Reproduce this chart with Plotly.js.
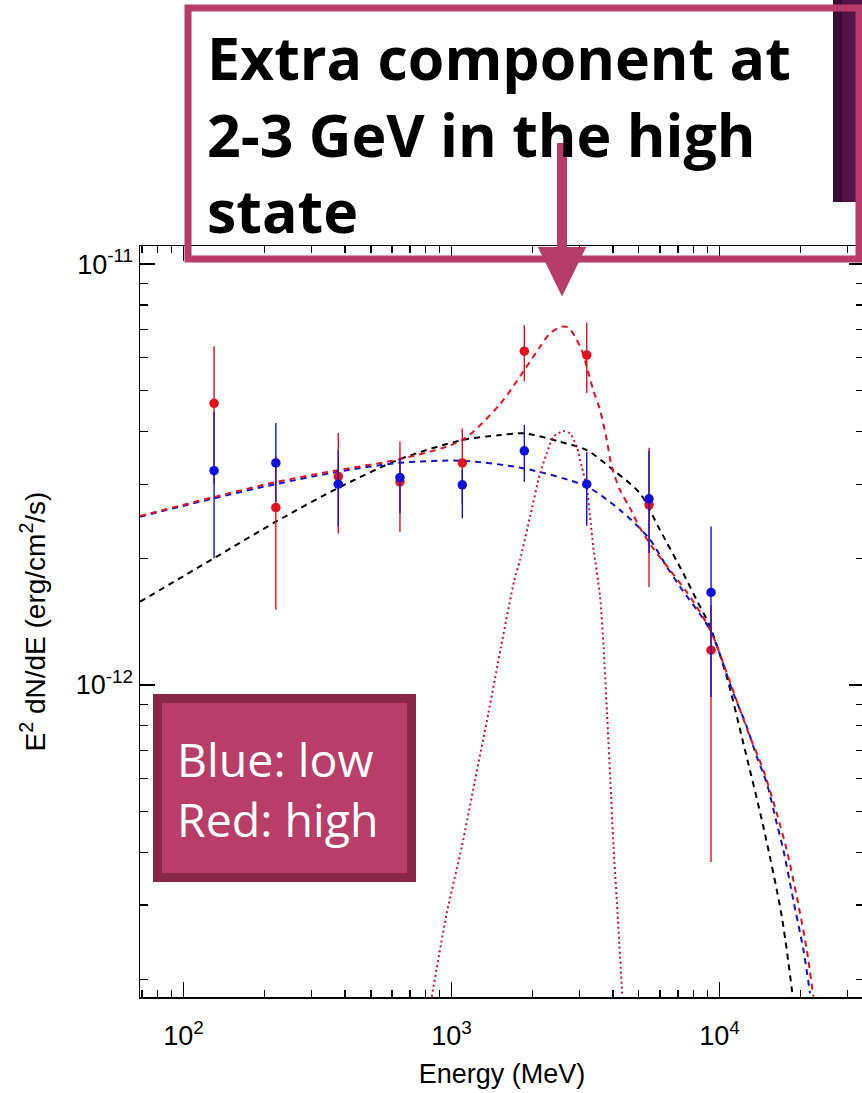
<!DOCTYPE html>
<html>
<head>
<meta charset="utf-8">
<script src="https://cdn.plot.ly/plotly-3.0.1.min.js"></script>
<style>
  html, body { margin: 0; padding: 0; overflow: hidden; background: #fff; }
  #chart { width: 880px; height: 1093px; }
</style>
</head>
<body>
<div id="chart"></div>
<script>
// Measured spectral points (MeV, erg/cm^2/s)
const energy = [130, 221, 378, 642, 1097, 1869, 3195, 5457, 9296];

// High state (red)
const highFlux  = [4.67e-12, 2.64e-12, 3.13e-12, 3.04e-12, 3.37e-12, 6.21e-12, 6.08e-12, 2.68e-12, 1.21e-12];
const highUpper = [6.38e-12, 3.50e-12, 3.97e-12, 3.79e-12, 4.07e-12, 7.16e-12, 7.26e-12, 3.66e-12, 1.55e-12];
const highLower = [3.00e-12, 1.51e-12, 2.29e-12, 2.31e-12, 2.70e-12, 5.27e-12, 4.94e-12, 1.71e-12, 3.80e-13];

// Low state (blue)
const lowFlux  = [3.23e-12, 3.37e-12, 3.00e-12, 3.11e-12, 2.99e-12, 3.60e-12, 3.00e-12, 2.77e-12, 1.66e-12];
const lowUpper = [4.45e-12, 4.19e-12, 3.61e-12, 3.46e-12, 3.25e-12, 4.15e-12, 3.58e-12, 3.60e-12, 2.38e-12];
const lowLower = [2.00e-12, 2.72e-12, 2.38e-12, 2.56e-12, 2.49e-12, 3.04e-12, 2.39e-12, 2.06e-12, 9.37e-13];

// Model curves
const avgModelE = [68.8, 130, 221, 377, 642, 1094, 1517, 1869, 2540, 3195, 4015, 5050, 5998, 7325, 8220, 9217, 10640, 12270, 14570, 17070, 18760];
const avgModelF = [1.577e-12, 2.002e-12, 2.443e-12, 2.937e-12, 3.441e-12, 3.818e-12, 3.925e-12, 3.962e-12, 3.783e-12, 3.615e-12, 3.240e-12, 2.853e-12, 2.334e-12, 1.842e-12, 1.591e-12, 1.376e-12, 1.046e-12, 7.27e-13, 4.61e-13, 2.82e-13, 1.82e-13];

const lowModelE = [68.8, 130, 221, 377, 642, 1094, 1865, 3203, 4254, 5457, 6353, 7122, 9217, 11260, 12640, 13770, 15010, 16350, 17300, 18860, 20550, 21760];
const lowModelF = [2.511e-12, 2.777e-12, 3.002e-12, 3.210e-12, 3.373e-12, 3.410e-12, 3.270e-12, 2.958e-12, 2.603e-12, 2.231e-12, 1.910e-12, 1.712e-12, 1.351e-12, 9.56e-13, 7.96e-13, 6.76e-13, 5.84e-13, 4.69e-13, 4.06e-13, 3.08e-13, 2.35e-13, 1.852e-13];

const highModelE = [68.8, 130, 221, 377, 642, 1094, 1517, 1869, 2139, 2331, 2577, 2728, 2889, 3060, 3195, 3381, 3583, 3795, 3962, 4254, 4634, 5050, 5647, 6537, 7545, 8455, 9352, 10330, 11930, 12990, 14570, 16350, 17810, 19420, 21160, 22390];
const highModelF = [2.520e-12, 2.797e-12, 3.035e-12, 3.240e-12, 3.441e-12, 3.818e-12, 4.650e-12, 5.600e-12, 6.363e-12, 6.846e-12, 7.098e-12, 7.074e-12, 6.719e-12, 6.249e-12, 5.703e-12, 5.017e-12, 4.498e-12, 3.818e-12, 3.300e-12, 2.905e-12, 2.632e-12, 2.360e-12, 2.115e-12, 1.875e-12, 1.663e-12, 1.491e-12, 1.328e-12, 1.126e-12, 8.72e-13, 7.54e-13, 6.28e-13, 4.96e-13, 4.06e-13, 3.14e-13, 2.35e-13, 1.818e-13];

// Extra component in the high state
const extraE = [843.7, 959.6, 1092, 1224, 1372, 1530, 1715, 1801, 1963, 2139, 2266, 2399, 2614, 2768, 2933, 3060, 3195, 3287, 3381, 3583, 3692, 3804, 3914, 4023, 4164, 4339];
const extraF = [1.818e-13, 2.869e-13, 4.128e-13, 5.944e-13, 8.564e-13, 1.233e-12, 1.775e-12, 1.981e-12, 2.511e-12, 3.183e-12, 3.550e-12, 3.890e-12, 4.011e-12, 3.961e-12, 3.681e-12, 3.300e-12, 2.958e-12, 2.511e-12, 2.130e-12, 1.621e-12, 1.233e-12, 8.564e-13, 5.944e-13, 4.128e-13, 2.869e-13, 1.818e-13];

// Axis ticks
const xMajor = [100, 1000, 10000];
const xMajorText = ['10<sup>2</sup>', '10<sup>3</sup>', '10<sup>4</sup>'];
const xMinor = [70, 80, 90, 200, 300, 400, 500, 600, 700, 800, 900, 2000, 3000, 4000, 5000, 6000, 7000, 8000, 9000, 20000, 30000];
const yMajor = [1e-12, 1e-11];
const yMajorText = ['10<sup>-12</sup>', '10<sup>-11</sup>'];
const yMinor = [2e-13, 3e-13, 4e-13, 5e-13, 6e-13, 7e-13, 8e-13, 9e-13, 2e-12, 3e-12, 4e-12, 5e-12, 6e-12, 7e-12, 8e-12, 9e-12];

const RED = '#e8101c', BLUE = '#1010e0', DOT = '#d01038';
const PINK = '#b83c6a';

// plot area in page pixels, used to place the overlay boxes
const PL = 140, PR = 864, PT = 246, PB = 997;
const fx = x => (x - PL) / (PR - PL);
const fy = y => (PB - y) / (PB - PT);

const diff = (a, b) => a.map((v, i) => v - b[i]);

const dashStyle = '6px,5px';
const traces = [
  { x: avgModelE, y: avgModelF, mode: 'lines', line: { color: '#000', width: 2, dash: dashStyle, shape: 'spline', smoothing: 0.8 }, hoverinfo: 'skip' },
  { x: lowModelE, y: lowModelF, mode: 'lines', line: { color: BLUE, width: 2, dash: dashStyle, shape: 'spline', smoothing: 0.8 }, hoverinfo: 'skip' },
  { x: highModelE, y: highModelF, mode: 'lines', line: { color: RED, width: 2, dash: dashStyle, shape: 'spline', smoothing: 0.8 }, hoverinfo: 'skip' },
  { x: extraE, y: extraF, mode: 'lines', line: { color: DOT, width: 2, dash: '2px,3px', shape: 'spline', smoothing: 0.6 }, hoverinfo: 'skip' },
  {
    x: energy, y: highFlux, mode: 'markers',
    marker: { color: RED, size: 9.5 },
    error_y: { type: 'data', symmetric: false, array: diff(highUpper, highFlux), arrayminus: diff(highFlux, highLower), color: RED, thickness: 1.4, width: 0 }
  },
  {
    x: energy, y: lowFlux, mode: 'markers',
    marker: { color: BLUE, size: 9.5 },
    error_y: { type: 'data', symmetric: false, array: diff(lowUpper, lowFlux), arrayminus: diff(lowFlux, lowLower), color: BLUE, thickness: 1.4, width: 0 }
  }
];

const axisFont = { family: 'Liberation Sans, Arial, sans-serif', size: 27, color: '#000' };
const commonAxis = {
  type: 'log', showgrid: false, zeroline: false,
  showline: true, linecolor: '#000', linewidth: 1.5, mirror: 'ticks',
  ticks: 'inside', ticklen: 15, tickwidth: 1.3, tickcolor: '#000',
  tickmode: 'array', tickfont: axisFont
};

const layout = {
  width: 880, height: 1093,
  margin: { l: PL, r: 880 - PR, t: PT, b: 1093 - PB },
  paper_bgcolor: '#fff', plot_bgcolor: '#fff',
  showlegend: false,
  xaxis: Object.assign({}, commonAxis, {
    range: [Math.log10(68.8), Math.log10(34600)],
    tickvals: xMajor, ticktext: xMajorText,
    ticklabelstandoff: 14,
    minor: { tickmode: 'array', tickvals: xMinor, ticks: 'inside', ticklen: 7, tickwidth: 1.3, tickcolor: '#000', showgrid: false },
    title: { text: 'Energy (MeV)', font: axisFont, standoff: 14 }
  }),
  yaxis: Object.assign({}, commonAxis, {
    range: [Math.log10(1.815e-13), Math.log10(1.104e-11)],
    tickvals: yMajor, ticktext: yMajorText,
    ticklabelstandoff: 0,
    minor: { tickmode: 'array', tickvals: yMinor, ticks: 'inside', ticklen: 8, tickwidth: 1.3, tickcolor: '#000', showgrid: false },
    title: { text: 'E<sup>2</sup> dN/dE (erg/cm<sup>2</sup>/s)', font: { family: axisFont.family, size: 28, color: '#000' }, standoff: 22 }
  }),
  shapes: [
    // dark side bar at the top right
    { type: 'rect', xref: 'paper', yref: 'paper', x0: fx(833), x1: fx(842), y0: fy(202), y1: fy(-2), line: { width: 0 }, fillcolor: '#3c0b34', layer: 'above' },
    { type: 'rect', xref: 'paper', yref: 'paper', x0: fx(842), x1: fx(870), y0: fy(202), y1: fy(-2), line: { width: 0 }, fillcolor: '#561449', layer: 'above' },
    // callout frame
    { type: 'rect', xref: 'paper', yref: 'paper', x0: fx(188), x1: fx(859), y0: fy(259), y1: fy(8), line: { color: PINK, width: 7 }, fillcolor: 'rgba(0,0,0,0)', layer: 'above' },
    // callout arrow
    { type: 'line', xref: 'paper', yref: 'paper', x0: fx(562), x1: fx(562), y0: fy(143), y1: fy(262), line: { color: PINK, width: 10 }, layer: 'above' },
    { type: 'path', xref: 'paper', yref: 'paper', layer: 'above',
      path: `M ${fx(541)} ${fy(249)} L ${fx(583)} ${fy(249)} L ${fx(562)} ${fy(292)} Z`,
      fillcolor: PINK, line: { color: PINK, width: 4 } },
    // state key box
    { type: 'rect', xref: 'paper', yref: 'paper', x0: fx(157.5), x1: fx(411.5), y0: fy(877.5), y1: fy(698.5), line: { color: '#882848', width: 9 }, fillcolor: '#b83d68', layer: 'above' }
  ],
  annotations: [
    { xref: 'paper', yref: 'paper', x: fx(205), y: fy(15), xanchor: 'left', yanchor: 'top', align: 'left', showarrow: false,
      text: 'Extra component at<br>2-3 GeV in the high<br>state',
      font: { family: 'Open Sans, sans-serif', size: 59, weight: 700, color: '#000' } },
    { xref: 'paper', yref: 'paper', x: fx(175), y: fy(789), xanchor: 'left', yanchor: 'middle', align: 'left', showarrow: false,
      text: 'Blue: low<br>Red: high',
      font: { family: 'Open Sans, sans-serif', size: 46.5, color: '#fff' } }
  ]
};

Plotly.newPlot('chart', traces, layout, { staticPlot: true, displayModeBar: false });
</script>
</body>
</html>
